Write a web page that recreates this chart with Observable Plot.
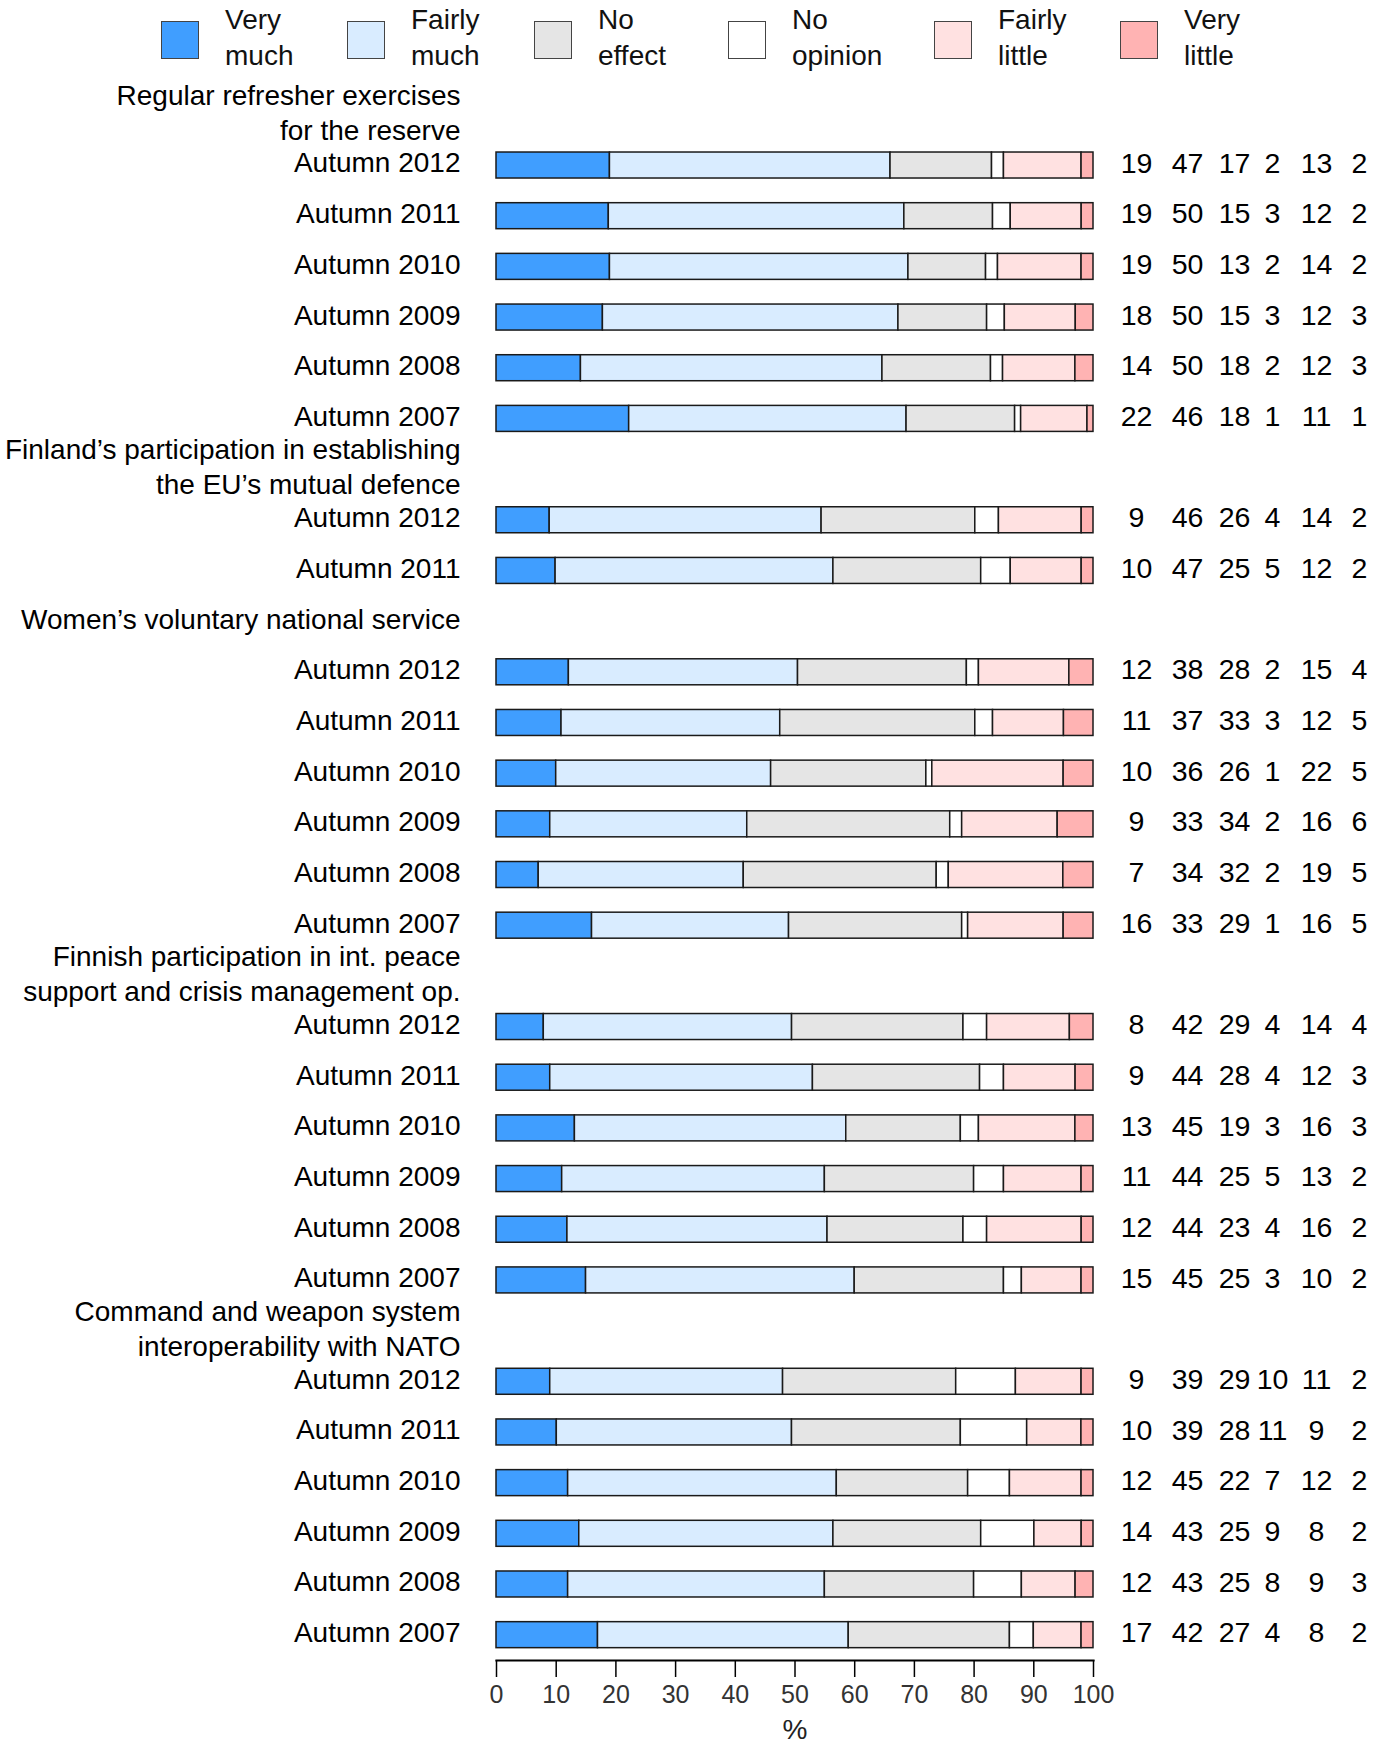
<!DOCTYPE html>
<html><head><meta charset="utf-8">
<script src="https://cdn.jsdelivr.net/npm/d3@7"></script>
<script src="https://cdn.jsdelivr.net/npm/@observablehq/plot@0.6"></script>
<style>
body{margin:0;background:#fff;font-family:"Liberation Sans",Arial,sans-serif;}
#legend{position:relative;width:1390px;height:72px;}
.box{position:absolute;top:21px;width:38px;height:38px;box-sizing:border-box;border:1.5px solid #444;}
.lab{position:absolute;top:2px;font-size:28px;line-height:35.5px;color:#111;white-space:pre;}
#chart svg{display:block}
</style></head><body>
<div id="legend"></div>
<div id="chart"></div>
<script>
// ---- data ----
const responses = ["Very much", "Fairly much", "No effect", "No opinion", "Fairly little", "Very little"];
const legendLabels = ["Very\nmuch", "Fairly\nmuch", "No\neffect", "No\nopinion", "Fairly\nlittle", "Very\nlittle"];
const groupTitles = [
  "Regular refresher exercises\nfor the reserve",
  "Finland\u2019s participation in establishing\nthe EU\u2019s mutual defence",
  "Women\u2019s voluntary national service",
  "Finnish participation in int. peace\nsupport and crisis management op.",
  "Command and weapon system\ninteroperability with NATO"
];
const wavesAll = ["Autumn 2012", "Autumn 2011", "Autumn 2010", "Autumn 2009", "Autumn 2008", "Autumn 2007"];
const wavesRecent = ["Autumn 2012", "Autumn 2011"];
const refresherValues = [
  [19, 47, 17, 2, 13, 2],
  [19, 50, 15, 3, 12, 2],
  [19, 50, 13, 2, 14, 2],
  [18, 50, 15, 3, 12, 3],
  [14, 50, 18, 2, 12, 3],
  [22, 46, 18, 1, 11, 1]
];
const euDefenceValues = [
  [9, 46, 26, 4, 14, 2],
  [10, 47, 25, 5, 12, 2]
];
const womenValues = [
  [12, 38, 28, 2, 15, 4],
  [11, 37, 33, 3, 12, 5],
  [10, 36, 26, 1, 22, 5],
  [9, 33, 34, 2, 16, 6],
  [7, 34, 32, 2, 19, 5],
  [16, 33, 29, 1, 16, 5]
];
const peaceValues = [
  [8, 42, 29, 4, 14, 4],
  [9, 44, 28, 4, 12, 3],
  [13, 45, 19, 3, 16, 3],
  [11, 44, 25, 5, 13, 2],
  [12, 44, 23, 4, 16, 2],
  [15, 45, 25, 3, 10, 2]
];
const natoValues = [
  [9, 39, 29, 10, 11, 2],
  [10, 39, 28, 11, 9, 2],
  [12, 45, 22, 7, 12, 2],
  [14, 43, 25, 9, 8, 2],
  [12, 43, 25, 8, 9, 3],
  [17, 42, 27, 4, 8, 2]
];
const groupWaves = [wavesAll, wavesRecent, wavesAll, wavesAll, wavesAll];
const groupValues = [refresherValues, euDefenceValues, womenValues, peaceValues, natoValues];

// ---- styles ----
const colors = ["#409EFF", "#D9ECFF", "#E5E5E5", "#FFFFFF", "#FFE1E1", "#FFB3B3"];
const legendLeft = [161, 347, 534, 728, 934, 1120];
const colDx = [43, 94, 141, 179, 223, 266];

// ---- legend ----
const legend = document.getElementById("legend");
responses.forEach((r, i) => {
  const b = document.createElement("div");
  b.className = "box";
  b.style.left = legendLeft[i] + "px";
  b.style.background = colors[i];
  legend.appendChild(b);
  const t = document.createElement("div");
  t.className = "lab";
  t.style.left = (legendLeft[i] + 64) + "px";
  t.textContent = legendLabels[i];
  legend.appendChild(t);
});

// ---- build tables ----
const slots = [], titleRows = [], labelRows = [], cells = [];
groupTitles.forEach((title, gi) => {
  const tkey = "t" + gi;
  slots.push(tkey);
  titleRows.push({key: tkey, title});
  groupValues[gi].forEach((vals, wi) => {
    const key = `r${gi}-${wi}`;
    slots.push(key);
    labelRows.push({key, wave: groupWaves[gi][wi]});
    vals.forEach((v, ri) => cells.push({key, response: responses[ri], value: v}));
  });
});

const chart = Plot.plot({
  width: 1390,
  height: 1671,
  marginLeft: 496,
  marginRight: 297,
  marginTop: 17,
  marginBottom: 83,
  style: {fontFamily: "Liberation Sans, Arial, sans-serif", fontSize: "28px", color: "#000", background: "#fff"},
  x: {domain: [0, 100], percent: true},
  y: {domain: slots, paddingInner: 0.487, paddingOuter: 0.2435, round: false, axis: null},
  color: {domain: responses, range: colors},
  marks: [
    Plot.barX(cells, Plot.stackX({y: "key", x: "value", fill: "response", offset: "normalize", stroke: "#1a1a1a", strokeWidth: 1.5})),
    Plot.frame({anchor: "bottom", strokeWidth: 2.2, stroke: "#000"}),
    Plot.axisX({ticks: 10, tickSize: 17, tickPadding: 8, fontSize: 25, strokeWidth: 1.5, stroke: "#000", fill: "#333", label: null}),
    Plot.axisX({ticks: [], tickSize: 0, label: "%", labelAnchor: "center", labelArrow: false, labelOffset: 78, fontSize: 28, fill: "#222"}),
    Plot.text(titleRows, {y: "key", text: "title", frameAnchor: "left", dx: -36, dy: -4, textAnchor: "end", lineHeight: 1.25, fontSize: 28, fill: "#000"}),
    Plot.text(labelRows, {y: "key", text: "wave", frameAnchor: "left", dx: -36, dy: -2, textAnchor: "end", fontSize: 28, fill: "#000"}),
    ...responses.map((r, i) => Plot.text(cells.filter(d => d.response === r), {y: "key", text: d => String(d.value), frameAnchor: "right", dx: colDx[i], dy: -2, textAnchor: "middle", fontSize: 28.5, fill: "#000"}))
  ]
});
document.getElementById("chart").appendChild(chart);
</script>
</body></html>
